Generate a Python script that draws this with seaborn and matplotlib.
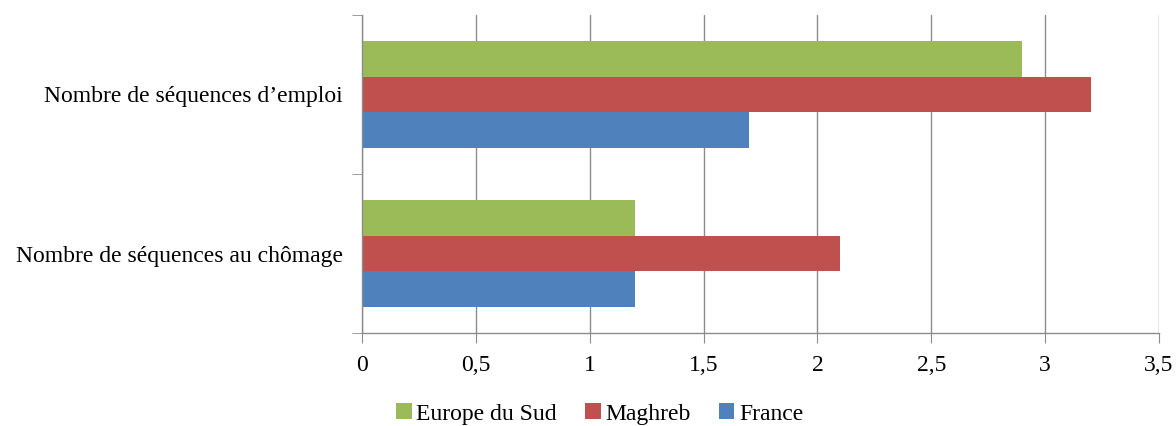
import matplotlib
matplotlib.use("Agg")
import matplotlib.pyplot as plt
import matplotlib.ticker as mticker
from matplotlib.patches import Patch
import seaborn as sns
import pandas as pd

categories = ["Nombre de séquences d\u2019emploi", "Nombre de séquences au chômage"]
groups = ["Europe du Sud", "Maghreb", "France"]
europe_sud = [2.9, 1.2]
maghreb = [3.2, 2.1]
france = [1.7, 1.2]
colors = ["#9BBB59", "#C0504D", "#4F81BD"]

df = pd.DataFrame({
    "categorie": categories * 3,
    "groupe": [g for g in groups for _ in categories],
    "valeur": europe_sud + maghreb + france,
})

sns.set_style("white")
plt.rcParams["font.family"] = ["Liberation Serif", "DejaVu Serif"]
plt.rcParams["text.color"] = "black"
plt.rcParams["xtick.color"] = "black"
plt.rcParams["ytick.color"] = "black"

fig = plt.figure(figsize=(11.76, 4.26), dpi=100)
ax = fig.add_axes([0.3078, 0.2183, 0.6777, 0.7465])

sns.barplot(data=df, x="valeur", y="categorie", hue="groupe",
            order=categories, hue_order=groups, palette=colors,
            width=0.667, orient="h", ax=ax, legend=False,
            edgecolor="none", linewidth=0, saturation=1)

ax.set_xlim(0, 3.5)
ax.set_ylim(1.5, -0.5)
ax.xaxis.set_major_locator(mticker.MultipleLocator(0.5))
ax.xaxis.set_major_formatter(mticker.FuncFormatter(
    lambda v, p: ("%g" % v).replace(".", ",")))
ax.grid(axis="x", color="#8c8c8c", linewidth=1)
ax.set_axisbelow(True)
ax.set_xlabel("")
ax.set_ylabel("")

for s in ["top", "right"]:
    ax.spines[s].set_visible(False)
for s in ["left", "bottom"]:
    ax.spines[s].set_color("#8c8c8c")
    ax.spines[s].set_linewidth(1)

ax.set_yticks([-0.5, 0.5, 1.5], minor=True)
ax.tick_params(axis="y", which="minor", length=7, color="#8c8c8c", left=True)
ax.tick_params(axis="y", which="major", length=0, pad=14, labelsize=17,
               labelcolor="black")
ax.tick_params(axis="x", which="major", length=7, color="#8c8c8c",
               bottom=True, pad=9, labelsize=17, labelcolor="black")

handles = [Patch(facecolor=c, edgecolor="none") for c in colors]
fig.legend(handles, groups, loc="center", bbox_to_anchor=(0.51, 0.028),
           ncol=3, frameon=False, fontsize=17, handlelength=0.65,
           handleheight=0.65, handletextpad=0.2, columnspacing=1.2,
           labelcolor="black")

fig.savefig("out.png", dpi=100)
